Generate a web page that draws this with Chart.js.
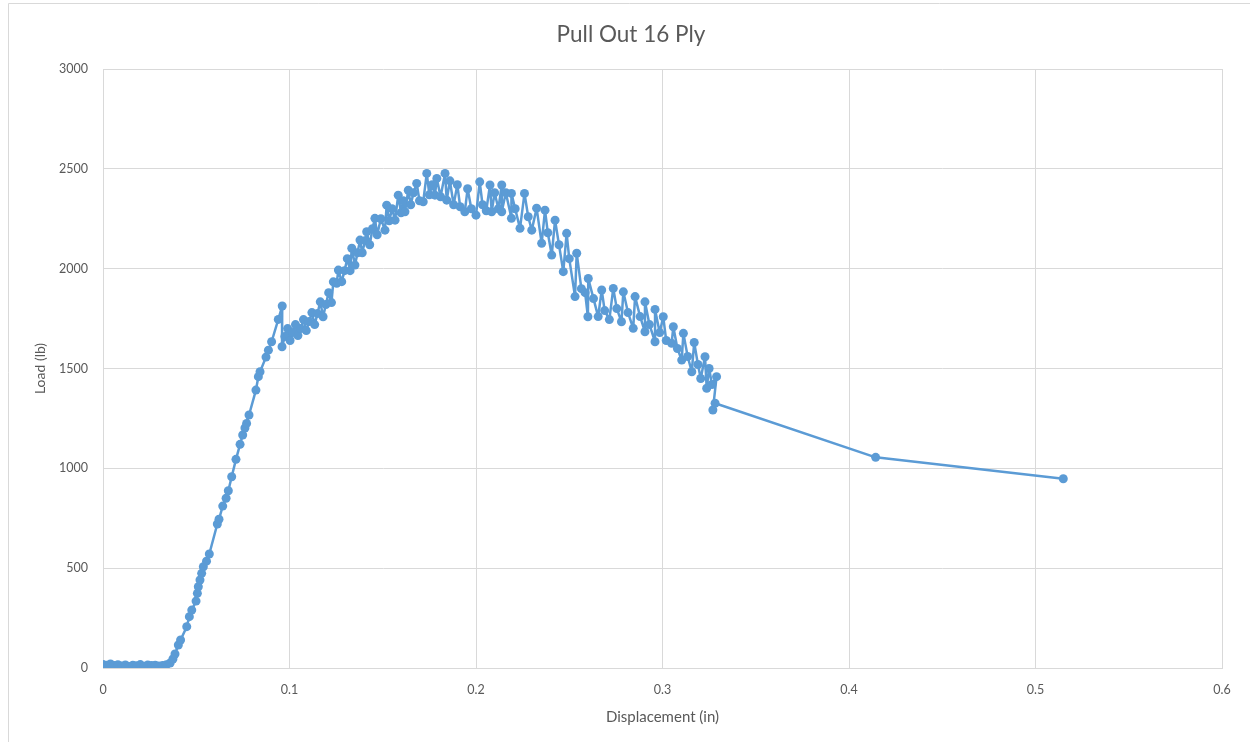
<!doctype html>
<html lang="en">
  <head>
    <meta charset="UTF-8" />
    <title>Pull Out 16 Ply</title>
    <script src="https://cdn.jsdelivr.net/npm/chart.js"></script>
    <style>
      html, body { margin: 0; padding: 0; background: #fff; }
      #wrap { position: relative; width: 1250px; height: 742px; }
    </style>
  </head>
  <body>
    <div id="wrap"><canvas id="pull-chart" width="1250" height="742"></canvas></div>
    <script>
      // Displacement (in) and load (lb)
      const displacement = [
        0, 0.002, 0.004, 0.006, 0.008, 0.010, 0.012, 0.014, 0.016, 0.018,
        0.020, 0.022, 0.024, 0.026, 0.028, 0.030, 0.032, 0.034,
        0.036, 0.0375, 0.0386, 0.0404, 0.0416, 0.0449, 0.0463, 0.0476, 0.0499, 0.0506,
        0.0511, 0.052, 0.0529, 0.0538, 0.0555, 0.057, 0.0613, 0.0622, 0.0642, 0.066,
        0.0672, 0.069, 0.0713, 0.0735, 0.0749, 0.0761, 0.077, 0.0783, 0.082, 0.0833,
        0.0842, 0.0874, 0.0887, 0.0904, 0.094, 0.0961, 0.096,
        0.0975, 0.099, 0.1003, 0.1018, 0.1032, 0.1045, 0.106, 0.1075, 0.109, 0.1105,
        0.112, 0.1135, 0.115, 0.1165, 0.118, 0.1195, 0.121, 0.1225, 0.1235, 0.1253,
        0.1262, 0.128, 0.1295, 0.131, 0.1325, 0.1334, 0.1351, 0.1365, 0.1378, 0.139,
        0.1405, 0.1414, 0.143, 0.1445, 0.1458, 0.147, 0.149, 0.1512, 0.1521, 0.1535,
        0.155, 0.1566, 0.1583, 0.1598, 0.161, 0.1619, 0.1637, 0.165, 0.1665, 0.1682,
        0.1697, 0.1717, 0.1736, 0.175, 0.1765, 0.178, 0.179, 0.181, 0.1834, 0.1843,
        0.186, 0.188, 0.19, 0.1915, 0.194, 0.1955, 0.1975, 0.2, 0.202, 0.2035,
        0.2055, 0.2075, 0.2084, 0.21, 0.212, 0.2138, 0.2138, 0.216, 0.219, 0.219,
        0.221, 0.2236, 0.226, 0.228, 0.2299, 0.2325, 0.2352, 0.237, 0.2385, 0.2406,
        0.2424, 0.2445, 0.2468, 0.2486, 0.25, 0.2531, 0.254, 0.2565, 0.2585, 0.26,
        0.2602, 0.263, 0.2655, 0.2674, 0.269, 0.2715, 0.2736, 0.2755, 0.278, 0.279,
        0.2815, 0.2843, 0.2853, 0.288, 0.2906, 0.2906, 0.293, 0.296, 0.296, 0.2985,
        0.3004, 0.302, 0.3049, 0.3058, 0.308, 0.3103, 0.3112, 0.3135, 0.3157, 0.317,
        0.319, 0.3205, 0.3228, 0.3237, 0.325, 0.3265, 0.329, 0.327, 0.3282,
        0.4143, 0.5149
      ];
      const load = [
        18, 14, 20, 12, 16, 10, 15, 8, 14, 11,
        17, 9, 15, 12, 14, 10, 13, 16,
        25, 45, 70, 115, 140, 207, 257, 290, 335, 374,
        407, 441, 474, 507, 535, 571, 721, 745, 811, 850,
        888, 958, 1045, 1120, 1167, 1202, 1225, 1267, 1392, 1459,
        1484, 1557, 1592, 1634, 1746, 1813, 1609,
        1660, 1700, 1640, 1680, 1720, 1665, 1700, 1745, 1690, 1735,
        1780, 1720, 1775, 1834, 1759, 1820, 1880, 1830, 1934, 1927,
        1993, 1935, 1990, 2050, 1990, 2102, 2018, 2080, 2143, 2080,
        2140, 2185, 2120, 2200, 2252, 2170, 2250, 2193, 2318, 2240,
        2300, 2243, 2368, 2280, 2340, 2285, 2393, 2320, 2380, 2427,
        2340, 2335, 2477, 2370, 2420, 2368, 2452, 2360, 2477, 2343,
        2440, 2320, 2420, 2310, 2285, 2400, 2300, 2268, 2435, 2320,
        2290, 2419, 2285, 2380, 2300, 2419, 2285, 2380, 2252, 2377,
        2300, 2202, 2377, 2260, 2193, 2303, 2127, 2293, 2180, 2068,
        2243, 2120, 1985, 2177, 2050, 1860, 2077, 1900, 1880, 1759,
        1951, 1850, 1760, 1893, 1790, 1745, 1901, 1800, 1734, 1884,
        1780, 1701, 1860, 1760, 1684, 1834, 1720, 1634, 1796, 1680,
        1759, 1640, 1626, 1709, 1600, 1542, 1676, 1560, 1484, 1630,
        1520, 1450, 1559, 1401, 1500, 1420, 1459, 1292, 1326,
        1055, 948
      ];
      const xTicks = [0, 0.1, 0.2, 0.3, 0.4, 0.5, 0.6];
      const yTicks = [0, 500, 1000, 1500, 2000, 2500, 3000];

      const blue = '#5B9BD5';
      const gridColor = '#d9d9d9';
      const textColor = '#595959';
      const fontFamily = 'Lato, "Open Sans", sans-serif';

      const points = displacement.map((d, i) => ({ x: d, y: load[i] }));

      // white page plus the thin frame Excel puts around the chart
      const framePlugin = {
        id: 'frame',
        beforeDraw(chart) {
          const c = chart.ctx;
          c.save();
          c.fillStyle = '#fff';
          c.fillRect(0, 0, chart.width, chart.height);
          c.strokeStyle = gridColor;
          c.lineWidth = 1;
          c.beginPath();
          c.moveTo(8.5, chart.height);
          c.lineTo(8.5, 3.5);
          c.lineTo(chart.width, 3.5);
          c.stroke();
          c.restore();
        }
      };

      new Chart(document.getElementById('pull-chart'), {
        type: 'line',
        data: {
          datasets: [{
            data: points,
            borderColor: blue,
            backgroundColor: blue,
            borderWidth: 2.5,
            borderJoinStyle: 'round',
            pointRadius: 4.5,
            pointBorderWidth: 0,
            pointBackgroundColor: blue,
            tension: 0
          }]
        },
        options: {
          responsive: false,
          animation: false,
          // left padding pushes the title centre over to where Excel put it
          layout: { padding: { left: 40, right: 28, top: 0, bottom: 0 } },
          plugins: {
            legend: { display: false },
            tooltip: { enabled: false },
            title: {
              display: true,
              text: 'Pull Out 16 Ply',
              color: textColor,
              font: { family: fontFamily, size: 22.5, weight: 'normal' },
              padding: { top: 21.5, bottom: 20.5 }
            }
          },
          scales: {
            x: {
              type: 'linear',
              min: 0,
              max: 0.6,
              afterBuildTicks: (axis) => { axis.ticks = xTicks.map(v => ({ value: v })); },
              afterFit: (axis) => { axis.height = 74; },
              grid: { color: gridColor, drawTicks: false },
              border: { color: gridColor },
              ticks: {
                color: textColor,
                padding: 14,
                font: { family: fontFamily, size: 12.5 },
                callback: (v) => String(Math.round(v * 10) / 10)
              },
              title: {
                display: true,
                text: 'Displacement (in)',
                color: textColor,
                font: { family: fontFamily, size: 15 },
                padding: { top: 0, bottom: 16 }
              }
            },
            y: {
              min: 0,
              max: 3000,
              afterBuildTicks: (axis) => { axis.ticks = yTicks.map(v => ({ value: v })); },
              afterFit: (axis) => { axis.width = 63; },
              grid: { color: gridColor, drawTicks: false },
              border: { color: gridColor },
              ticks: {
                color: textColor,
                padding: 15,
                font: { family: fontFamily, size: 12.5 },
                callback: (v) => String(v)
              },
              title: {
                display: true,
                text: 'Load (lb)',
                color: textColor,
                font: { family: fontFamily, size: 14 },
                padding: { top: -8.4, bottom: 0 }
              }
            }
          }
        },
        plugins: [framePlugin]
      });
    </script>
  </body>
</html>
